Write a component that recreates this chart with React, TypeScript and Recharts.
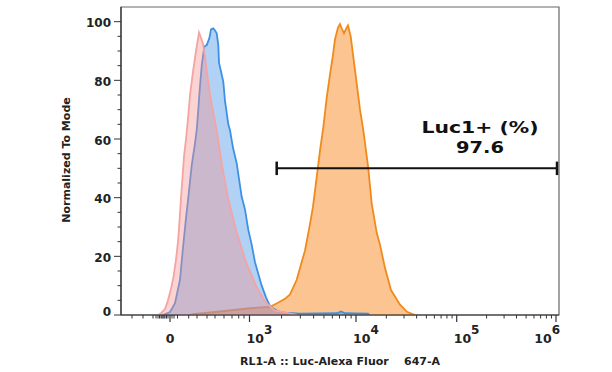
import React from 'react';
import { ComposedChart, Area, XAxis, YAxis, ReferenceLine, ReferenceArea, ReferenceDot } from 'recharts';

// X positions are in display units of the biexponential axis (≈ one unit per decade)
const controlSeries: [number, number][] = [
  [0.37, 0], [0.40, 0.6], [0.44, 2], [0.47, 5], [0.50, 9], [0.525, 13], [0.55, 19], [0.57, 25],
  [0.585, 32], [0.60, 40], [0.615, 47], [0.63, 54], [0.65, 60], [0.67, 67], [0.69, 75], [0.72, 83],
  [0.75, 90], [0.78, 96.3], [0.80, 94.5], [0.82, 92.5], [0.84, 88], [0.87, 80], [0.90, 73], [0.94, 66],
  [0.97, 60], [1.01, 51], [1.07, 40], [1.15, 29], [1.25, 18], [1.35, 10], [1.44, 4.5], [1.54, 1.5],
  [1.66, 0.7], [1.76, 0],
];

const mockSeries: [number, number][] = [
  [0.42, 0], [0.49, 1], [0.54, 4], [0.59, 12], [0.62, 23], [0.65, 33], [0.673, 40], [0.707, 51],
  [0.74, 58.5], [0.757, 63], [0.773, 70], [0.783, 75], [0.795, 80], [0.807, 85], [0.833, 91.5],
  [0.857, 92], [0.883, 94.3], [0.90, 97.4], [0.923, 97.7], [0.94, 97], [0.957, 96], [0.973, 92],
  [0.98, 86], [1.007, 82], [1.023, 79.5], [1.04, 73], [1.073, 65], [1.09, 63], [1.12, 57],
  [1.157, 51.7], [1.207, 40.3], [1.24, 36], [1.273, 29], [1.307, 24], [1.34, 18], [1.407, 10],
  [1.45, 6], [1.49, 3], [1.57, 1.2], [1.64, 0.8], [1.79, 0.5], [2.16, 0.6], [2.20, 1.2], [2.24, 0.6],
  [2.47, 0.5], [2.48, 0],
];

const luc1Series: [number, number][] = [
  [0.69, 0], [0.72, 0.3], [0.99, 1.2], [1.29, 2.3], [1.49, 2.8], [1.56, 4], [1.64, 5.5], [1.69, 7],
  [1.757, 12], [1.79, 16], [1.84, 22], [1.89, 31], [1.92, 37], [1.957, 47], [1.99, 56], [2.023, 64],
  [2.057, 74], [2.09, 82], [2.117, 88], [2.14, 94], [2.17, 98], [2.19, 99.2], [2.21, 97.5], [2.23, 96],
  [2.25, 97.5], [2.27, 98.7], [2.297, 95], [2.323, 88], [2.357, 79], [2.39, 70], [2.423, 63],
  [2.473, 50], [2.507, 38], [2.557, 28], [2.59, 24], [2.64, 16], [2.70, 8.5], [2.79, 3.5],
  [2.86, 1.1], [2.94, 0],
];

// Axis ticks
const xMajorTicks = [0.49, 1.285, 2.35, 3.357, 4.35];
const xTickBase = ['0', '10', '10', '10', '10'];
const xTickExp = ['', '3', '4', '5', '6'];
const xNearZeroMinor = [0.11, 0.22, 0.32, 0.35, 0.37, 0.385, 0.40, 0.41, 0.42, 0.43, 0.44, 0.455, 0.47,
  0.51, 0.53, 0.565, 0.677, 0.76, 0.86, 0.94, 1.03, 1.11, 1.177, 1.23];
const yTicks = [0, 5, 10, 15, 20, 25, 30, 35, 40, 45, 50, 55, 60, 65, 70, 75, 80, 85, 90, 95, 100];
const xDomain: [number, number] = [0, 4.38];
const yDomain: [number, number] = [0, 105];

// Gate
const gateFrom = 1.557;
const gateTo = 4.36;
const gateLevel = 50;
const gateName = 'Luc1+ (%)';
const gateValue = '97.6';
const gateLabelX = 3.59;
const gateLabelY = 62;

const xTitle = 'RL1-A :: Luc-Alexa Fluor    647-A';
const yTitle = 'Normalized To Mode';

const decadeMinors: number[] = [];
for (let i = 1; i < xMajorTicks.length - 0; i++) {
  if (i + 1 >= xMajorTicks.length) break;
  const a = xMajorTicks[i], b = xMajorTicks[i + 1];
  for (let k = 2; k <= 9; k++) decadeMinors.push(a + Math.log10(k) * (b - a));
}
const xTicks = [...xMajorTicks, ...xNearZeroMinor, ...decadeMinors].sort((a, b) => a - b);

const lookup = (s: [number, number][], u: number) => {
  const f = s.find((p) => p[0] === u);
  return f ? f[1] : null;
};
const allX = Array.from(new Set([...controlSeries, ...mockSeries, ...luc1Series].map((p) => p[0]))).sort((a, b) => a - b);
const table = allX.map((u) => ({
  u,
  control: lookup(controlSeries, u),
  mock: lookup(mockSeries, u),
  luc1: lookup(luc1Series, u),
}));

const FONT = 'DejaVu Sans';
const AXIS = '#333';

const YTick = (props: any) => {
  const { x, y, payload } = props;
  const v = payload.value;
  const major = v % 20 === 0;
  return (
    <g>
      <line x1={x} x2={x - (major ? 7 : 3.5)} y1={y} y2={y} stroke={AXIS} strokeWidth={1} />
      {major && (
        <text x={x - 10} y={y + (v === 0 ? 1 : 5.5)} textAnchor="end" fontFamily={FONT} fontWeight="bold" fontSize={12} fill="#222">
          {v}
        </text>
      )}
    </g>
  );
};

const XTick = (props: any) => {
  const { x, y, payload } = props;
  const mi = xMajorTicks.indexOf(payload.value);
  if (mi < 0) {
    return <line x1={x} x2={x} y1={y} y2={y + 3.5} stroke={AXIS} strokeWidth={1} />;
  }
  const exp = xTickExp[mi];
  const last = mi === xMajorTicks.length - 1;
  return (
    <g>
      <line x1={x} x2={x} y1={y} y2={y + 7} stroke={AXIS} strokeWidth={1.2} />
      {exp ? (
        <text x={last ? x + 4 : x - 3} y={y + 28} textAnchor={last ? 'end' : 'start'} fontFamily={FONT} fontWeight="bold" fontSize={12.5} fill="#222">
          {xTickBase[mi]}
          <tspan dy={-9} fontSize={12}>{exp}</tspan>
        </text>
      ) : (
        <text x={x} y={y + 28} textAnchor="middle" fontFamily={FONT} fontWeight="bold" fontSize={12.5} fill="#222">
          {xTickBase[mi]}
        </text>
      )}
    </g>
  );
};

const XTitle = (props: any) => {
  const vb = props.viewBox || { x: 121, y: 315, width: 438, height: 57 };
  return (
    <text x={vb.x + vb.width / 2} y={vb.y + 50} textAnchor="middle" fontFamily={FONT} fontWeight="bold" fontSize={11} fill="#222" style={{ whiteSpace: 'pre' }}>
      {xTitle}
    </text>
  );
};

const YTitle = (props: any) => {
  const vb = props.viewBox || { x: 0, y: 7, width: 121, height: 308 };
  const cx = vb.x + 70;
  const cy = vb.y + vb.height / 2 - 1;
  return (
    <text x={cx} y={cy} transform={`rotate(-90, ${cx}, ${cy})`} textAnchor="middle" fontFamily={FONT} fontWeight="bold" fontSize={11} fill="#222">
      {yTitle}
    </text>
  );
};

const GateLabel = (props: any) => {
  const { cx, cy } = props;
  return (
    <g>
      <text x={cx} y={cy} textAnchor="middle" fontFamily={FONT} fontWeight="bold" fontSize={16} fill="#111" textLength={117} lengthAdjust="spacingAndGlyphs">
        {gateName}
      </text>
      <text x={cx} y={cy + 20} textAnchor="middle" fontFamily={FONT} fontWeight="bold" fontSize={16} fill="#111" textLength={48} lengthAdjust="spacingAndGlyphs">
        {gateValue}
      </text>
    </g>
  );
};

export default function App() {
  return (
    <div style={{ position: 'absolute', left: 0, top: 0, width: 612, height: 372, background: '#fff' }}>
      <ComposedChart width={612} height={372} data={table} margin={{ top: 7, right: 53, bottom: 0, left: 0 }}>
        <XAxis
          dataKey="u"
          type="number"
          domain={xDomain}
          allowDataOverflow
          ticks={xTicks}
          interval={0}
          tickLine={false}
          tickSize={0}
          tickMargin={0}
          tick={<XTick />}
          height={57}
          axisLine={{ stroke: AXIS, strokeWidth: 1.2 }}
          label={<XTitle />}
        />
        <YAxis
          type="number"
          domain={yDomain}
          allowDataOverflow
          ticks={yTicks}
          interval={0}
          tickLine={false}
          tickSize={0}
          tickMargin={0}
          tick={<YTick />}
          width={121}
          axisLine={{ stroke: AXIS, strokeWidth: 1.2 }}
          label={<YTitle />}
        />
        <ReferenceArea x1={xDomain[0]} x2={xDomain[1]} y1={yDomain[0]} y2={yDomain[1]} fill="none" stroke="#666" strokeWidth={1.2} fillOpacity={0} />
        <Area dataKey="luc1" type="linear" connectNulls stroke="#f08a1c" strokeWidth={1.8} fill="#f98a22" fillOpacity={0.5} dot={false} activeDot={false} isAnimationActive={false} />
        <Area dataKey="mock" type="linear" connectNulls stroke="#3f90e4" strokeWidth={1.8} fill="#3d8fe3" fillOpacity={0.4} dot={false} activeDot={false} isAnimationActive={false} />
        <Area dataKey="control" type="linear" connectNulls stroke="#f5a3a3" strokeWidth={1.8} fill="#f59090" fillOpacity={0.4} dot={false} activeDot={false} isAnimationActive={false} />
        <ReferenceLine segment={[{ x: gateFrom, y: gateLevel }, { x: gateTo, y: gateLevel }]} stroke="#111" strokeWidth={2} />
        <ReferenceLine segment={[{ x: gateFrom, y: gateLevel - 2.3 }, { x: gateFrom, y: gateLevel + 2.3 }]} stroke="#111" strokeWidth={2.5} />
        <ReferenceLine segment={[{ x: gateTo, y: gateLevel - 2.3 }, { x: gateTo, y: gateLevel + 2.3 }]} stroke="#111" strokeWidth={2.5} />
        <ReferenceDot x={gateLabelX} y={gateLabelY} r={0} shape={(p: any) => <GateLabel cx={p.cx} cy={p.cy} />} />
      </ComposedChart>
    </div>
  );
}
